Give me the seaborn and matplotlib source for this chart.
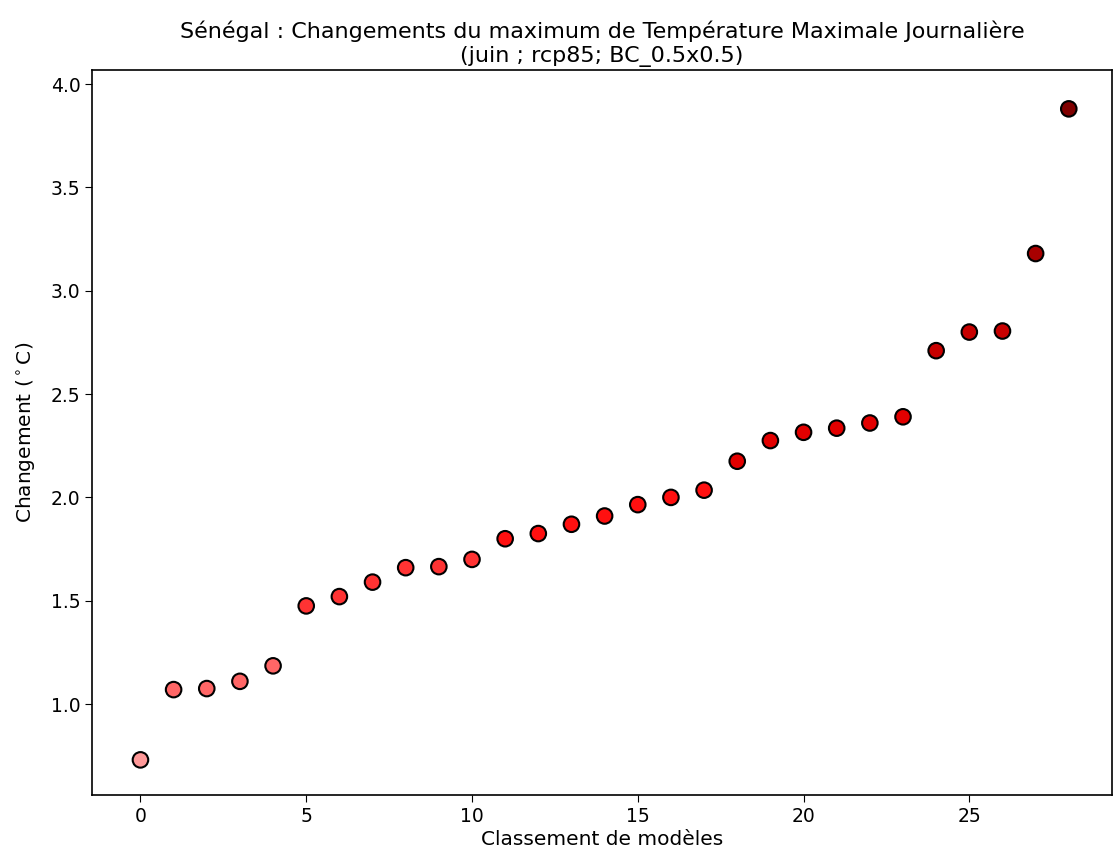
import numpy as np
import pandas as pd
import matplotlib
matplotlib.use('Agg')
import matplotlib.pyplot as plt
import seaborn as sns

# data
rank = list(range(29))
change = [0.73, 1.07, 1.075, 1.11, 1.185, 1.475, 1.52, 1.59, 1.66, 1.665,
          1.70, 1.80, 1.825, 1.87, 1.91, 1.965, 2.00, 2.035, 2.175, 2.275,
          2.315, 2.335, 2.36, 2.39, 2.71, 2.80, 2.805, 3.18, 3.88]

# colour classes by value
bin_edges = [0.0, 1.0, 1.25, 1.75, 2.1, 2.5, 3.0, 3.5, 10.0]
bin_colors = ['#ff9999', '#ff6666', '#ff3333', '#ff1010',
              '#e30000', '#c80000', '#a80000', '#800000']

df = pd.DataFrame({'rank': rank, 'change': change})
df['cls'] = pd.cut(df['change'], bins=bin_edges, labels=False, right=False)

sns.set_style('ticks', {'axes.edgecolor': 'black', 'text.color': 'black',
                        'axes.labelcolor': 'black', 'xtick.color': 'black',
                        'ytick.color': 'black'})
plt.rcParams['font.family'] = ['DejaVu Sans']

fig = plt.figure(figsize=(11.13, 8.59), dpi=100)
ax = fig.add_axes([0.083, 0.0745, 0.916, 0.844])

sns.scatterplot(data=df, x='rank', y='change', hue='cls',
                palette=dict(enumerate(bin_colors)), s=125,
                edgecolor='black', linewidth=1.5, legend=False, ax=ax)

ax.set_xlim(-1.45, 29.3)
ax.set_ylim(0.56, 4.068)
ax.set_xticks([0, 5, 10, 15, 20, 25])
ax.set_yticks([1.0, 1.5, 2.0, 2.5, 3.0, 3.5, 4.0])
ax.tick_params(labelsize=13.5, length=5, colors='black')
for sp in ax.spines.values():
    sp.set_visible(True)
    sp.set_linewidth(1.2)
    sp.set_color('black')

ax.set_xlabel('Classement de modèles', fontsize=14.5, color='black', labelpad=3)
ax.set_ylabel('Changement ($^\\circ$C)', fontsize=14.5, color='black', labelpad=10)
ax.set_title('Sénégal : Changements du maximum de Température Maximale Journalière\n'
             '(juin ; rcp85; BC_0.5x0.5)', fontsize=16, color='black', pad=6)

fig.savefig('out.png', dpi=100)
